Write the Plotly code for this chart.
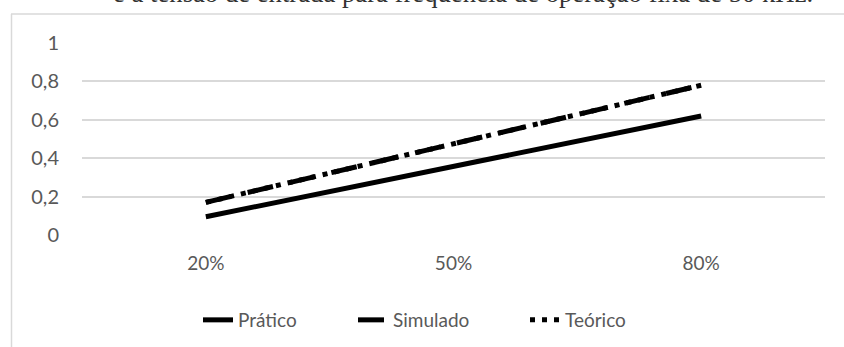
import plotly.graph_objects as go

categories = ["20%", "50%", "80%"]
pratico = [0.095, 0.36, 0.62]
simulado = [0.17, 0.475, 0.78]
teorico = [0.17, 0.475, 0.78]
y_ticks = [0, 0.2, 0.4, 0.6, 0.8, 1]
y_labels = ["0", "0,2", "0,4", "0,6", "0,8", "1"]
title_text = "e a tensão de entrada para frequência de operação fixa de 50 kHz."

W, H = 844, 347
L, R, T, B = 82, 19, 43, 112
pw = W - L - R
ph = H - T - B

def px_x(x):
    return (x - L) / pw

def px_y(y):
    return (H - B - y) / ph

fig = go.Figure()
fig.add_trace(go.Scatter(x=categories, y=pratico, name="Prático", mode="lines",
                         line=dict(color="black", width=5), legend="legend"))
fig.add_trace(go.Scatter(x=categories, y=simulado, name="Simulado", mode="lines",
                         line=dict(color="black", width=5, dash="26px,17px"),
                         legend="legend2"))
fig.add_trace(go.Scatter(x=categories, y=teorico, name="Teórico", mode="lines",
                         line=dict(color="black", width=5, dash="5px,7px"),
                         legend="legend3"))

grid = "#d9d9d9"
tick_font = dict(family="Lato", size=19, color="#595959")
ytick_font = dict(family="Lato", size=20, color="#595959")

def leg(xpix):
    return dict(orientation="h", x=px_x(xpix), xanchor="left", y=px_y(320),
                yanchor="middle", font=tick_font, bgcolor="rgba(0,0,0,0)")

fig.update_layout(
    width=W, height=H,
    margin=dict(l=L, r=R, t=T, b=B, pad=0, autoexpand=False),
    paper_bgcolor="white", plot_bgcolor="white",
    font=tick_font,
    xaxis=dict(type="category", range=[-0.5, 2.5], showgrid=False, zeroline=False,
               showline=False, ticks="", tickfont=tick_font, ticklabelstandoff=15),
    yaxis=dict(range=[0, 1], tickvals=y_ticks, ticktext=y_labels, showgrid=True,
               gridcolor=grid, gridwidth=1.5, zeroline=False, showline=False,
               ticks="", tickfont=ytick_font, ticklabelstandoff=22),
    showlegend=True,
    legend=leg(198),
    legend2=leg(353),
    legend3=leg(525),
    shapes=[
        dict(type="line", xref="paper", yref="paper", x0=px_x(11.5), x1=px_x(11.5),
             y0=px_y(14), y1=px_y(H + 5), line=dict(color=grid, width=1.5)),
        dict(type="line", xref="paper", yref="paper", x0=px_x(11), x1=px_x(W + 5),
             y0=px_y(14), y1=px_y(14), line=dict(color=grid, width=1.5)),
    ],
    annotations=[
        dict(text=title_text, xref="paper", yref="paper", x=px_x(463), y=px_y(10),
             xanchor="center", yanchor="bottom", showarrow=False,
             font=dict(family="Liberation Serif", size=26.7, color="#333333")),
    ],
)

fig.write_html("out.html")
